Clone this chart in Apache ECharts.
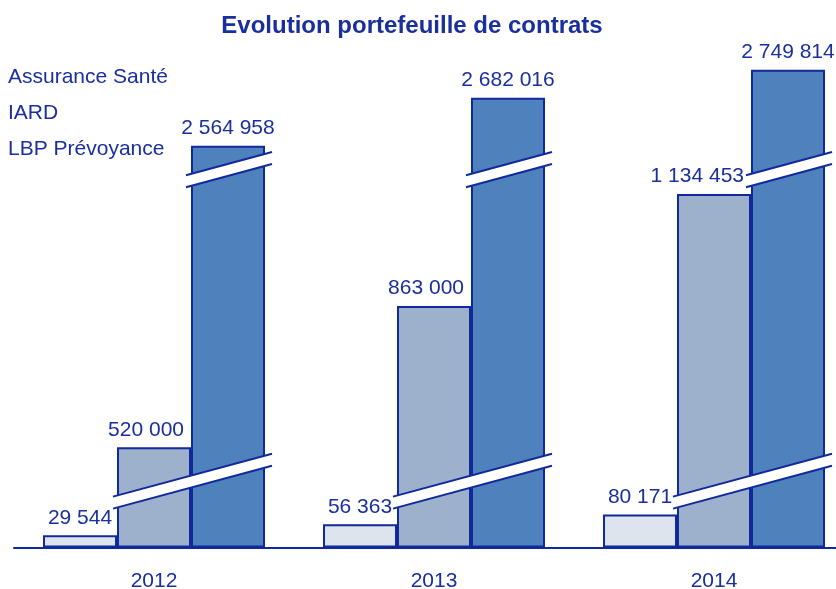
<!DOCTYPE html>
<html>
<head>
<meta charset="utf-8">
<script src="https://cdn.jsdelivr.net/npm/echarts@6/dist/echarts.min.js"></script>
<style>
  html, body { margin: 0; padding: 0; background: #fff; }
  #main { width: 836px; height: 589px; }
</style>
</head>
<body>
<div id="main"></div>
<script>
const years = ['2012', '2013', '2014'];
const sante = [29544, 56363, 80171];
const iard = [520000, 863000, 1134453];
const lbp = [2564958, 2682016, 2749814];
// value ranges hidden by the two cuts of the axis
const lowBreak = [150000, 447000];
const highBreak = [1183000, 2516500];

const navy = '#10299c';
const textColor = '#1a2f9e';
const BAR_W = 74;
const SLOPE = -0.27;
const HALF = 6;

var chartDom = document.getElementById('main');
var myChart = echarts.init(chartDom);

function fmt(p) {
    return String(p.value).replace(/\B(?=(\d{3})+(?!\d))/g, ' ');
}

// white diagonal cut drawn over the bars where the axis is broken
function renderCut(params, api) {
    const i = api.value(0);
    const cx = api.coord([i, 0])[0];
    const children = [];
    function band(brk, x0, x1, xRef) {
        const yc = (api.coord([i, brk[0]])[1] + api.coord([i, brk[1]])[1]) / 2;
        const yAt = (x, d) => yc + d + SLOPE * (x - xRef);
        children.push({
            type: 'polygon',
            shape: { points: [[x0, yAt(x0, -HALF)], [x1, yAt(x1, -HALF)], [x1, yAt(x1, HALF)], [x0, yAt(x0, HALF)]] },
            style: { fill: '#fff' }
        });
        [-HALF, HALF].forEach(function (d) {
            children.push({
                type: 'line',
                shape: { x1: x0, y1: yAt(x0, d), x2: x1, y2: yAt(x1, d) },
                style: { stroke: navy, lineWidth: 2 }
            });
        });
    }
    band(lowBreak, cx - BAR_W / 2 - 4, cx + BAR_W * 1.5 + 7, cx + BAR_W / 2);
    band(highBreak, cx + BAR_W / 2 - 5, cx + BAR_W * 1.5 + 7, cx + BAR_W);
    return { type: 'group', children: children };
}

const barBase = {
    type: 'bar',
    barWidth: BAR_W,
    barGap: 0,
    z: 2,
    label: {
        show: true,
        position: 'top',
        distance: 7,
        fontFamily: 'Liberation Sans, Arial, sans-serif',
        fontSize: 21,
        color: textColor,
        formatter: fmt
    }
};

var option = {
    animation: false,
    backgroundColor: '#fff',
    title: {
        text: 'Evolution portefeuille de contrats',
        left: 412,
        top: 14,
        padding: 0,
        textAlign: 'center',
        textStyle: {
            fontFamily: 'Liberation Sans, Arial, sans-serif',
            fontSize: 24,
            fontWeight: 'bold',
            color: textColor
        }
    },
    legend: {
        orient: 'vertical',
        left: 2,
        top: 66,
        padding: 0,
        itemWidth: 0,
        itemHeight: 20,
        itemGap: 14,
        itemStyle: { opacity: 0 },
        data: ['Assurance Santé', 'IARD', 'LBP Prévoyance'],
        textStyle: {
            fontFamily: 'Liberation Sans, Arial, sans-serif',
            fontSize: 21,
            lineHeight: 20,
            color: textColor
        }
    },
    grid: { left: 14, top: 49, width: 840, height: 498.5, outerBoundsMode: 'none' },
    xAxis: {
        type: 'category',
        data: years,
        axisTick: { show: false },
        axisLine: { lineStyle: { color: navy, width: 2 } },
        axisLabel: {
            margin: 23,
            fontFamily: 'Liberation Sans, Arial, sans-serif',
            fontSize: 21,
            color: textColor
        }
    },
    yAxis: {
        type: 'value',
        min: 0,
        max: 2800000,
        breaks: [
            { start: lowBreak[0], end: lowBreak[1], gap: 20000 },
            { start: highBreak[0], end: highBreak[1], gap: 20000 }
        ],
        breakArea: {
            show: false,
            zigzagAmplitude: 0,
            itemStyle: { opacity: 0 }
        },
        axisLine: { show: false },
        axisTick: { show: false },
        axisLabel: { show: false },
        splitLine: { show: false }
    },
    series: [
        Object.assign({}, barBase, {
            name: 'Assurance Santé',
            data: sante,
            itemStyle: { color: '#dde4ee', borderColor: navy, borderWidth: 2 }
        }),
        Object.assign({}, barBase, {
            name: 'IARD',
            data: iard,
            itemStyle: { color: '#9db0cc', borderColor: navy, borderWidth: 2 },
            label: Object.assign({}, barBase.label, { align: 'right', offset: [30, 0] })
        }),
        Object.assign({}, barBase, {
            name: 'LBP Prévoyance',
            data: lbp,
            itemStyle: { color: '#4f81bd', borderColor: navy, borderWidth: 2 }
        }),
        {
            type: 'custom',
            z: 5,
            silent: true,
            renderItem: renderCut,
            encode: { x: 0, y: 1 },
            data: years.map(function (y, i) { return [i, 0]; })
        }
    ]
};

option && myChart.setOption(option);
</script>
</body>
</html>
